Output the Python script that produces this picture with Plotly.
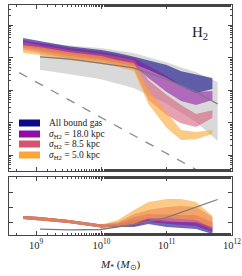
import plotly.graph_objects as go

# ---- data (log10 values) ----
logm = [8.80, 9.05, 9.50, 10.00, 10.25, 10.50, 10.72, 11.00, 11.22, 11.45, 11.70]

# top panel bands (log10 of quantity): upper / lower edges
navy_top   = [-0.40, -0.49, -0.65, -0.77, -0.86, -0.98, -1.08, -1.23, -1.42, -1.51, -1.63]
navy_bot   = [-0.65, -0.74, -0.89, -1.02, -1.11, -1.20, -1.38, -1.63, -1.88, -2.09, -1.97]
purple_top = [-0.46, -0.55, -0.71, -0.83, -0.92, -1.02, -1.26, -1.57, -1.85, -2.06, -2.03]
purple_bot = [-0.71, -0.80, -0.95, -1.08, -1.17, -1.26, -1.63, -2.06, -2.34, -2.46, -2.31]
pink_top   = [-0.52, -0.62, -0.77, -0.89, -0.98, -1.08, -1.69, -2.15, -2.46, -2.74, -2.62]
pink_bot   = [-0.77, -0.86, -1.02, -1.14, -1.23, -1.35, -2.31, -2.77, -3.02, -3.14, -2.86]
orange_top = [-0.62, -0.68, -0.83, -0.95, -1.08, -1.17, -2.00, -2.68, -3.23, -3.29, -3.23]
orange_bot = [-0.86, -0.92, -1.08, -1.20, -1.29, -1.42, -2.43, -3.17, -3.54, -3.51, -3.35]

# grey reference band and line
logm_ref  = [9.06, 9.52, 9.98, 10.49, 10.98, 11.45, 11.78]
ref_top   = [-0.55, -0.62, -0.71, -0.86, -1.14, -1.45, -1.75]
ref_bot   = [-1.38, -1.51, -1.66, -1.94, -2.40, -2.98, -3.57]
ref_line  = [-0.98, -1.05, -1.17, -1.32, -1.66, -2.06, -2.43]

# dashed line endpoints
logm_dash = [8.50, 12.00]
dash_line = [-1.20, -5.05]

# bottom panel (ratio) bands
r_orange_top = [1.40, 1.33, 1.13, 0.83, 1.13, 1.80, 2.33, 2.53, 2.53, 2.33, 1.40]
r_orange_bot = [1.20, 1.13, 0.93, 0.63, 0.73, 0.87, 1.27, 1.27, 1.20, 1.13, 0.60]
r_pink_top   = [1.40, 1.33, 1.13, 0.83, 1.00, 1.53, 1.80, 2.00, 2.07, 2.00, 1.33]
r_pink_bot   = [1.20, 1.13, 0.93, 0.63, 0.73, 0.80, 1.13, 1.00, 1.00, 0.93, 0.47]
r_purple_top = [1.40, 1.33, 1.13, 0.83, 0.93, 1.33, 1.53, 1.47, 1.47, 1.47, 1.00]
r_purple_bot = [1.20, 1.13, 0.93, 0.63, 0.73, 0.73, 1.00, 0.87, 0.80, 0.73, 0.33]
r_navy_top   = [1.40, 1.33, 1.13, 0.83, 0.87, 1.13, 1.20, 1.07, 1.00, 1.00, 0.67]
r_navy_bot   = [1.20, 1.13, 0.93, 0.63, 0.67, 0.67, 0.87, 0.67, 0.60, 0.53, 0.20]
r_ref_line   = [0.53, 0.47, 0.50, 0.83, 1.27, 2.00, 2.50]

labels = ["All bound gas", "<i>σ</i><sub>H2</sub> = 18.0 kpc",
          "<i>σ</i><sub>H2</sub> = 8.5 kpc", "<i>σ</i><sub>H2</sub> = 5.0 kpc"]
colors = ["#0d0887", "#8f0da4", "#d5536f", "#fca636"]
fills = ["rgba(13,8,135,0.6)", "rgba(143,13,164,0.55)",
         "rgba(213,83,111,0.55)", "rgba(252,166,54,0.6)"]

xtick_vals = [1e9, 1e10, 1e11, 1e12]
xtick_text = ["10<sup>9</sup>", "10<sup>10</sup>", "10<sup>11</sup>", "10<sup>12</sup>"]

FONT = "Liberation Serif"

def p10(a):
    return [10 ** v for v in a]

def band(xl, top, bot, fill, xa, ya, logy=True):
    xs = p10(xl) + p10(xl)[::-1]
    ys = (p10(top) + p10(bot)[::-1]) if logy else (top + bot[::-1])
    return go.Scatter(x=xs, y=ys, fill="toself", fillcolor=fill, mode="lines",
                      line=dict(width=0), hoverinfo="skip", showlegend=False,
                      xaxis=xa, yaxis=ya)

fig = go.Figure()

# top panel
fig.add_trace(band(logm_ref, ref_top, ref_bot, "rgba(170,170,170,0.45)", "x", "y"))
tops = [navy_top, purple_top, pink_top, orange_top]
bots = [navy_bot, purple_bot, pink_bot, orange_bot]
for t, b, f in zip(tops, bots, fills):
    fig.add_trace(band(logm, t, b, f, "x", "y"))
fig.add_trace(go.Scatter(x=p10(logm_ref), y=p10(ref_line), mode="lines",
                         line=dict(color="#7a7a7a", width=1.3), showlegend=False,
                         xaxis="x", yaxis="y"))
fig.add_trace(go.Scatter(x=p10(logm_dash), y=p10(dash_line), mode="lines",
                         line=dict(color="#8a8a8a", width=1.3, dash="dash"),
                         showlegend=False, xaxis="x", yaxis="y"))

# bottom panel
rtops = [r_navy_top, r_purple_top, r_pink_top, r_orange_top]
rbots = [r_navy_bot, r_purple_bot, r_pink_bot, r_orange_bot]
for t, b, f in zip(rtops, rbots, fills):
    fig.add_trace(band(logm, t, b, f, "x2", "y2", logy=False))
fig.add_trace(go.Scatter(x=p10(logm_ref), y=r_ref_line, mode="lines",
                         line=dict(color="#7a7a7a", width=1.3), showlegend=False,
                         xaxis="x2", yaxis="y2"))

axcol = "#444444"
common = dict(showline=True, linecolor=axcol, linewidth=1.3, mirror="ticks",
              ticks="inside", ticklen=4, tickcolor=axcol, tickwidth=1,
              showgrid=False, zeroline=False, automargin=False)
minor = dict(ticks="inside", ticklen=2, tickcolor=axcol, showgrid=False)

W, H = 242, 276
ml, mr, mt, mb = 9, 10, 5, 41
ph = H - mt - mb
pw = W - ml - mr
top_lo = (235 - 171) / ph
bot_hi = (235 - 177) / ph

fig.update_layout(
    width=W, height=H, margin=dict(l=ml, r=mr, t=mt, b=mb),
    paper_bgcolor="white", plot_bgcolor="white", showlegend=False,
    font=dict(family=FONT, color="#222222", size=11),
    xaxis=dict(type="log", range=[8.585, 12.0], domain=[0, 1], anchor="y",
               showticklabels=False, tickvals=xtick_vals, minor=minor, **common),
    yaxis=dict(type="log", range=[-4.49, 0.615], domain=[top_lo, 1], anchor="x",
               showticklabels=False, dtick=1, minor=minor, **common),
    xaxis2=dict(type="log", range=[8.585, 12.0], domain=[0, 1], anchor="y2",
                tickvals=xtick_vals, ticktext=xtick_text, minor=minor,
                tickfont=dict(family=FONT, size=10.5), **common),
    yaxis2=dict(range=[0.133, 4.0], domain=[0, bot_hi], anchor="x2",
                showticklabels=False, tickvals=[1, 2, 3], **common),
)

# x-axis title
fig.add_annotation(text="<i>M</i><sub>*</sub> (<i>M</i><sub>⊙</sub>)",
                   xref="paper", yref="paper", x=(120 - ml) / pw, y=(235 - 265) / ph,
                   xanchor="center", yanchor="middle", showarrow=False,
                   font=dict(family=FONT, size=11, color="#222"))

# H2 label
fig.add_annotation(text="H<sub>2</sub>", xref="paper", yref="paper",
                   x=(210 - ml) / pw, y=(235 - 22) / ph,
                   showarrow=False, font=dict(family=FONT, size=15, color="#222"))

# legend (swatches + labels)
rows = [123, 134, 144, 155]
for lab, col, r in zip(labels, colors, rows):
    fig.add_shape(type="rect", xref="paper", yref="paper",
                  x0=(19 - ml) / pw, x1=(40 - ml) / pw,
                  y0=(235 - (r + 3.5)) / ph, y1=(235 - (r - 3.5)) / ph,
                  fillcolor=col, line=dict(width=0))
    fig.add_annotation(text=lab, xref="paper", yref="paper",
                       x=(47 - ml) / pw, y=(235 - r) / ph,
                       xanchor="left", yanchor="middle", showarrow=False,
                       font=dict(family=FONT, size=9.5, color="#222"))

fig.write_html("out.html", config={"displayModeBar": False},
               post_script="document.body.style.margin='0';")
